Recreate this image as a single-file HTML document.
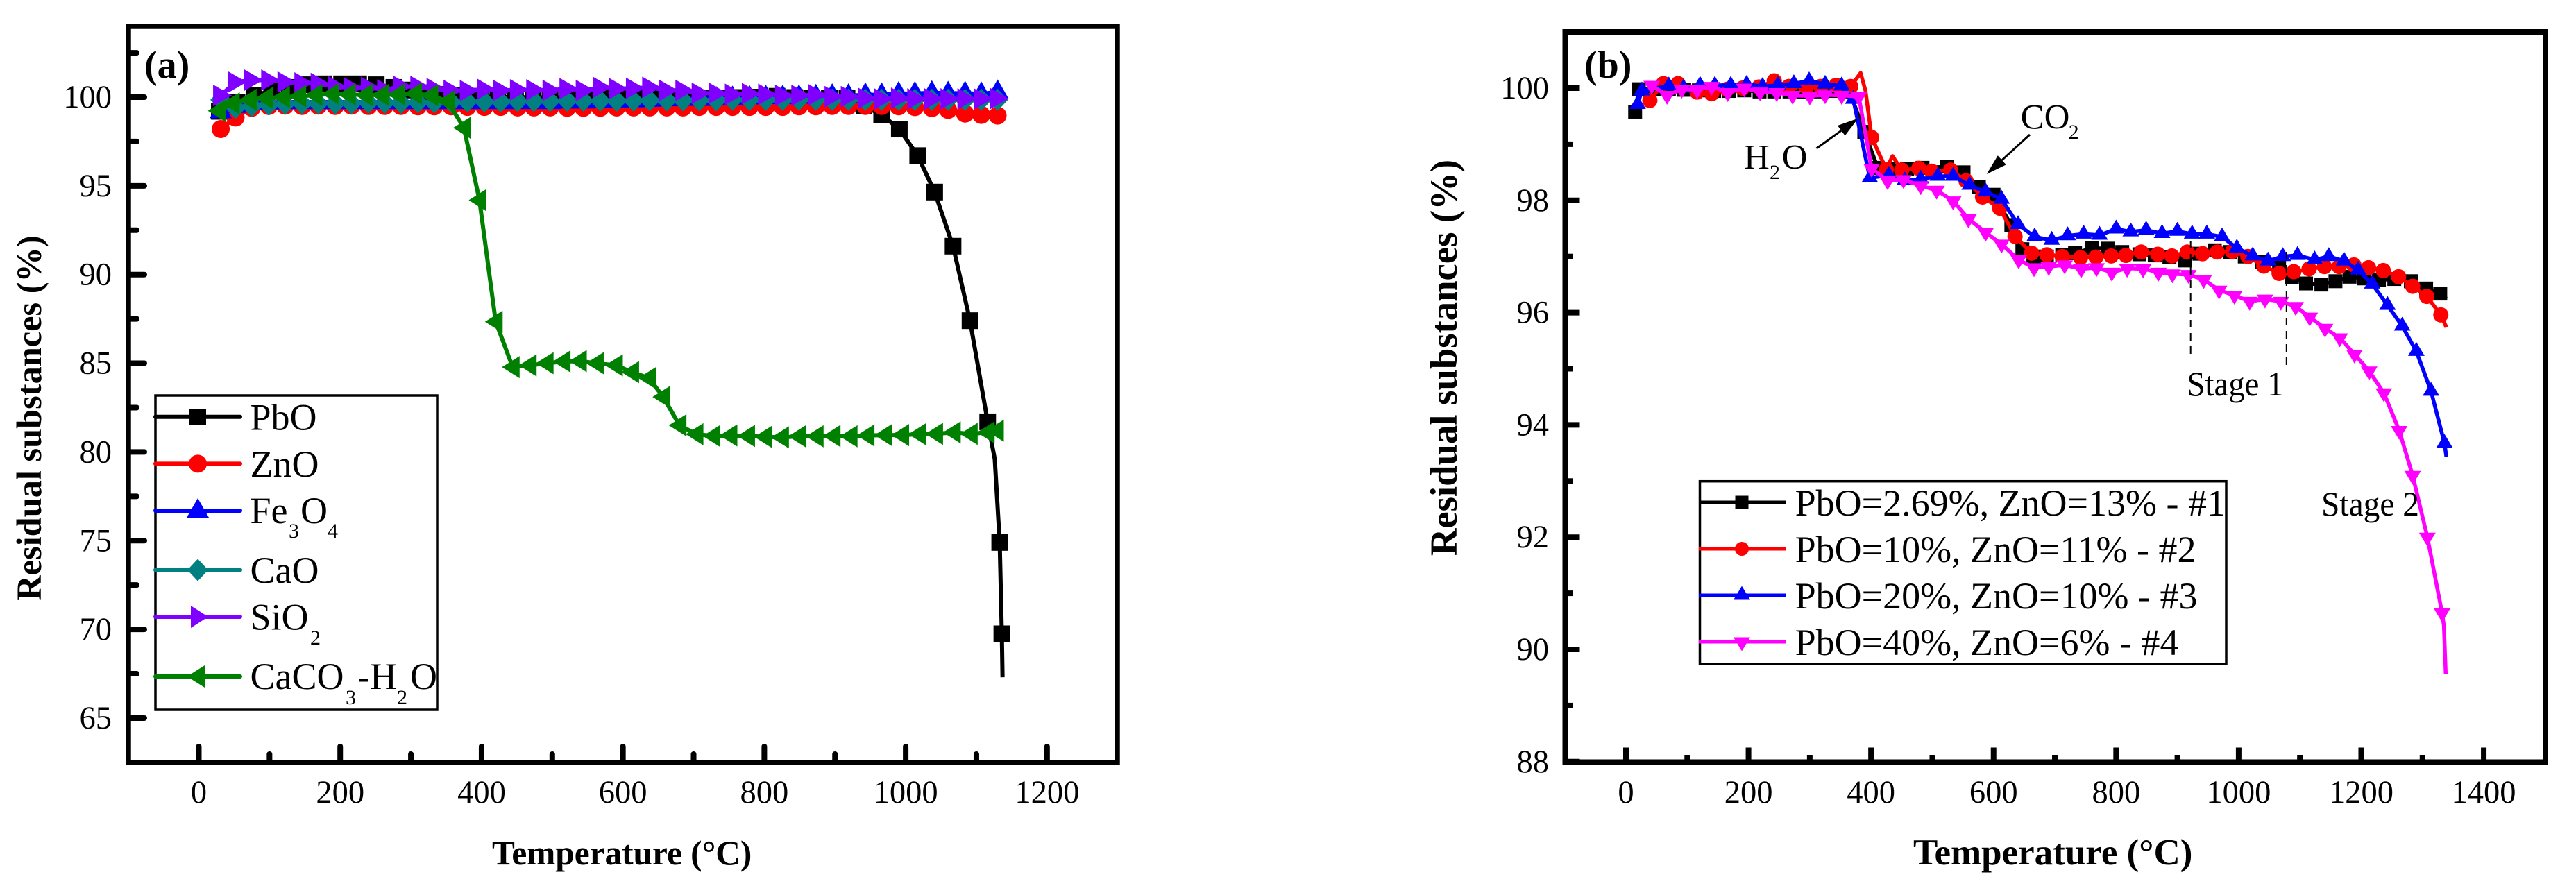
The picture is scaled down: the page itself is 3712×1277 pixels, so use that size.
<!DOCTYPE html>
<html lang="en">
<head>
<meta charset="utf-8">
<title>Residual substances vs temperature</title>
<style>
html,body{margin:0;padding:0;background:#fff;}
svg{display:block;}
text{font-family:"Liberation Serif",serif;fill:#000;}
.tick{font-size:46.5px;}
.leg{font-size:54px;}
.sub{font-size:30px;}
.bold{font-weight:bold;}
</style>
</head>
<body>
<svg id="figure" xmlns="http://www.w3.org/2000/svg" width="3712" height="1277" viewBox="0 0 3712 1277">
  <rect x="0" y="0" width="3712" height="1277" fill="#fff"/>

  <g id="panelA">
    <g id="seriesA"></g>
    <g id="ticksA"></g>
    <rect x="185" y="38" width="1425" height="1061" fill="none" stroke="#000" stroke-width="7.5"/>
    <text class="bold" x="208" y="112" font-size="56">(a)</text>
    <text class="bold" font-size="50.4" text-anchor="middle" transform="translate(59,602.5) rotate(-90)">Residual substances (%)</text>
    <text class="bold" font-size="49.3" x="709" y="1246">Temperature (°C)</text>
    <g>
      <rect x="224" y="570" width="406" height="453" fill="#fff" stroke="#000" stroke-width="3.5"/>
      <g>
        <line x1="224" x2="346" y1="600.7" y2="600.7" stroke="#000" stroke-width="6" stroke-linecap="round"/>
        <rect x="273" y="589" width="24" height="24" fill="#000"/>
        <text class="leg" x="360.5" y="619.4">PbO</text>
      </g>
      <g>
        <line x1="224" x2="346" y1="668.4" y2="668.4" stroke="#f00" stroke-width="6" stroke-linecap="round"/>
        <circle cx="285" cy="668.4" r="13" fill="#f00"/>
        <text class="leg" x="360.5" y="687">ZnO</text>
      </g>
      <g>
        <line x1="224" x2="346" y1="736" y2="736" stroke="#00f" stroke-width="6" stroke-linecap="round"/>
        <polygon points="269,746 301,746 285,718" fill="#00f"/>
        <text class="leg" x="360.5" y="754">Fe<tspan class="sub" x="416" y="775">3</tspan><tspan x="433" y="754">O</tspan><tspan class="sub" x="472" y="775">4</tspan></text>
      </g>
      <g>
        <line x1="224" x2="346" y1="821.5" y2="821.5" stroke="#008080" stroke-width="6" stroke-linecap="round"/>
        <polygon points="270,821.5 285,805.5 300,821.5 285,837.5" fill="#008080"/>
        <text class="leg" x="360.5" y="840">CaO</text>
      </g>
      <g>
        <line x1="224" x2="346" y1="889" y2="889" stroke="#8000ff" stroke-width="6" stroke-linecap="round"/>
        <polygon points="275,873 300,889 275,905" fill="#8000ff"/>
        <text class="leg" x="360.5" y="907.5">SiO<tspan class="sub" x="447" y="929">2</tspan></text>
      </g>
      <g>
        <line x1="224" x2="346" y1="975" y2="975" stroke="#008000" stroke-width="6" stroke-linecap="round"/>
        <polygon points="269.5,975 295,959 295,991" fill="#008000"/>
        <text class="leg" x="360.5" y="993">CaCO<tspan class="sub" x="498" y="1015">3</tspan><tspan x="515" y="993">-H</tspan><tspan class="sub" x="572" y="1015">2</tspan><tspan x="591" y="993">O</tspan></text>
      </g>
    </g>
  </g>

  <g id="panelB">
    <g id="seriesB"></g>
    <g id="ticksB"></g>
    <rect x="2255.5" y="46" width="1412.5" height="1052.5" fill="none" stroke="#000" stroke-width="8"/>
    <text class="bold" x="2283" y="112" font-size="56">(b)</text>
    <text class="bold" font-size="54.7" text-anchor="middle" transform="translate(2099,515.5) rotate(-90)">Residual substances (%)</text>
    <text class="bold" font-size="53" x="2757" y="1246">Temperature (°C)</text>

    <g>
      <text font-size="51" x="2513" y="243.7">H<tspan font-size="30" x="2550" y="258">2</tspan><tspan x="2567.6" y="243.7">O</tspan></text>
      <line x1="2617.5" y1="214" x2="2653.3" y2="188.2" stroke="#000" stroke-width="3"/>
      <polygon points="2677.6,170.6 2658.6,195.5 2648,181" fill="#000"/>
    </g>
    <g>
      <text font-size="51" x="2911.6" y="185.7">CO<tspan font-size="30" x="2980.6" y="200">2</tspan></text>
      <line x1="2925" y1="194" x2="2884.8" y2="230.8" stroke="#000" stroke-width="3"/>
      <polygon points="2862.7,251 2890.8,237.4 2878.8,224.2" fill="#000"/>
    </g>
    <g>
      <line x1="3156.7" x2="3156.7" y1="347" y2="516" stroke="#000" stroke-width="2" stroke-dasharray="11 8"/>
      <line x1="3294.8" x2="3294.8" y1="363" y2="534" stroke="#000" stroke-width="2" stroke-dasharray="11 8"/>
      <text font-size="50" x="3151.5" y="570" textLength="139" lengthAdjust="spacingAndGlyphs">Stage 1</text>
    </g>
    <text font-size="50" x="3345" y="743" textLength="141" lengthAdjust="spacingAndGlyphs">Stage 2</text>

    <g>
      <rect x="2449.5" y="693.7" width="758.5" height="263.3" fill="#fff" stroke="#000" stroke-width="3.5"/>
      <g>
        <line x1="2448" x2="2573.6" y1="724" y2="724" stroke="#000" stroke-width="5"/>
        <rect x="2500.5" y="714.5" width="19" height="19" fill="#000"/>
        <text class="leg" x="2586.6" y="743">PbO=2.69%, ZnO=13% - #1</text>
      </g>
      <g>
        <line x1="2448" x2="2573.6" y1="791" y2="791" stroke="#f00" stroke-width="5"/>
        <circle cx="2510" cy="791" r="10" fill="#f00"/>
        <text class="leg" x="2586.6" y="810">PbO=10%, ZnO=11% - #2</text>
      </g>
      <g>
        <line x1="2448" x2="2573.6" y1="858" y2="858" stroke="#00f" stroke-width="5"/>
        <polygon points="2498,864.5 2522,864.5 2510,844.6" fill="#00f"/>
        <text class="leg" x="2586.6" y="877">PbO=20%, ZnO=10% - #3</text>
      </g>
      <g>
        <line x1="2448" x2="2573.6" y1="925" y2="925" stroke="#f0f" stroke-width="5"/>
        <polygon points="2498,918.5 2522,918.5 2510,938.5" fill="#f0f"/>
        <text class="leg" x="2586.6" y="944">PbO=40%, ZnO=6% - #4</text>
      </g>
    </g>
  </g>
</svg>

<script>
// ---------- Panel (a) data ----------
const aXTicks = [0, 200, 400, 600, 800, 1000, 1200];
const aXMinor = [100, 300, 500, 700, 900, 1100];
const aYTicks = [65, 70, 75, 80, 85, 90, 95, 100];
const aYMinor = [67.5, 72.5, 77.5, 82.5, 87.5, 92.5, 97.5, 102.5];

const pboTemps = [29,54,78,103,128,152,177,202,226,251,276,300,325,350,374,399,423,448,473,497,522,547,571,596,621,645,670,695,719,744,769,793,818,843,867,892,917,941,966,991,1017,1041,1067,1091,1116,1133,1136];
const pboValues = [99.2,99.7,100.1,100.35,100.55,100.7,100.75,100.75,100.75,100.7,100.55,100.4,100.25,100.15,100.1,100.05,100,100,99.98,99.98,99.98,99.96,99.96,99.98,99.98,100,99.98,99.96,99.96,99.96,99.98,100,100.05,99.98,99.96,99.96,99.96,99.5,99,98.2,96.7,94.65,91.6,87.4,81.7,74.9,69.75];
const pboTailTemps = [1126, 1137];
const pboTailValues = [79.6, 67.3];

const sharedTemps = [31,52,75,99,122,146,169,193,216,240,263,286,310,333,357,380,404,427,451,474,497,521,544,568,591,615,638,662,685,708,732,755,779,802,826,849,873,896,919,943,966,990,1013,1037,1060,1084,1107,1130];
const znoValues = [98.2,98.85,99.4,99.5,99.52,99.5,99.52,99.5,99.52,99.5,99.5,99.5,99.48,99.48,99.48,99.45,99.45,99.45,99.42,99.42,99.42,99.4,99.4,99.4,99.42,99.42,99.42,99.42,99.42,99.45,99.45,99.45,99.45,99.45,99.45,99.48,99.48,99.5,99.5,99.5,99.5,99.48,99.44,99.38,99.28,99.07,99,98.96];
const feValues = [99.2,99.5,99.65,99.7,99.72,99.72,99.72,99.72,99.72,99.72,99.72,99.72,99.72,99.72,99.72,99.72,99.72,99.72,99.72,99.72,99.72,99.75,99.75,99.78,99.8,99.82,99.85,99.88,99.9,99.9,99.92,99.95,99.98,100,100,100.02,100.05,100.08,100.08,100.13,100.13,100.2,100.2,100.25,100.22,100.22,100.18,100.3];
const caoValues = [99.85,99.4,99.5,99.58,99.62,99.65,99.65,99.65,99.65,99.68,99.68,99.68,99.7,99.7,99.72,99.75,99.75,99.75,99.78,99.78,99.78,99.8,99.8,99.8,99.8,99.8,99.82,99.82,99.82,99.82,99.82,99.85,99.85,99.85,99.85,99.85,99.85,99.85,99.85,99.85,99.85,99.85,99.85,99.85,99.85,99.85,99.85,99.85];
const sio2Values = [100.1,100.85,100.96,100.96,100.85,100.8,100.77,100.6,100.52,100.55,100.41,100.6,100.6,100.48,100.37,100.37,100.45,100.38,100.41,100.41,100.38,100.48,100.38,100.55,100.48,100.5,100.55,100.38,100.38,100.22,100.22,100.16,100.2,100.16,100.1,100.1,100.13,100.03,100.03,99.94,99.9,99.94,99.9,99.9,99.9,99.9,99.9,99.92];
const caco3Temps = [28,48,72,95,119,142,165,189,212,236,259,282,306,329,352,375,397,420,444,468,492,516,539,563,590,613,637,657,680,704,728,752,777,801,825,849,874,898,922,946,971,995,1019,1043,1068,1092,1116,1129];
const caco3Values = [99.23,99.65,99.85,99.95,100,100.05,100.12,100.18,100.15,100.12,100.12,100.15,100.2,100.1,99.76,98.27,94.19,87.34,84.78,84.88,85,85.1,85.12,85,84.88,84.5,84.16,83.1,81.5,81,80.9,80.93,80.9,80.85,80.82,80.88,80.88,80.9,80.88,80.93,80.95,80.95,81,81.02,81.1,81.02,81.1,81.2];

// ---------- Panel (b) data ----------
const bXTicks = [0, 200, 400, 600, 800, 1000, 1200, 1400];
const bXMinor = [100, 300, 500, 700, 900, 1100, 1300];
const bYTicks = [88, 90, 92, 94, 96, 98, 100];
const bYMinor = [89, 91, 93, 95, 97, 99];

const s1Temps = [15,21,46,70,95,119,144,168,193,218,242,267,291,316,340,365,389,411,435,459,484,524,551,576,600,629,647,665,687,712,733,761,786,810,838,863,887,912,936,961,986,1010,1038,1066,1087,1110,1135,1158,1181,1204,1229,1254,1281,1306,1329];
const s1Values = [99.58,99.98,99.98,99.98,99.97,99.96,99.95,99.95,99.96,99.94,99.94,99.94,99.93,99.94,99.95,99.94,99.22,98.58,98.56,98.56,98.58,98.6,98.5,98.24,98.1,97.56,97.13,97,97,97.03,97.06,97.15,97.14,97.08,97.04,97.02,96.99,96.93,97.05,97.11,97.08,97,96.9,96.84,96.63,96.52,96.5,96.56,96.64,96.61,96.58,96.6,96.56,96.43,96.34];
const s1TailTemps = [1339];
const s1TailValues = [96.25];

const s2Temps = [39,61,85,116,140,165,190,217,242,266,294,318,343,367,401,425,450,478,499,530,555,582,610,635,662,687,712,742,767,792,816,841,868,891,916,941,965,990,1015,1041,1066,1090,1115,1140,1164,1188,1212,1236,1261,1284,1307,1330];
const s2Values = [99.78,100.08,100.08,99.93,99.9,99.98,100,100.02,100.13,100.03,100.02,100.03,100.05,100.03,99.12,98.55,98.54,98.57,98.52,98.54,98.35,98.06,97.86,97.36,97.06,97.03,97,96.98,96.99,97.01,97.02,97.08,97.04,97.01,97.08,97.05,97.08,97.09,97,96.83,96.7,96.73,96.78,96.82,96.82,96.85,96.8,96.75,96.64,96.47,96.29,95.96];
const s2TailTemps = [383, 391, 435, 1339];
const s2TailValues = [100.27, 99.95, 98.79, 95.74];

const s3Temps = [19,26,70,94,121,145,171,197,223,248,274,299,325,352,371,398,429,455,481,509,534,561,587,613,640,667,695,721,747,773,800,824,849,875,900,924,948,973,997,1023,1048,1072,1096,1124,1147,1172,1195,1218,1243,1267,1290,1314,1336];
const s3Values = [99.71,99.95,100.04,100,100.05,100.05,100.05,100.07,100.03,100.05,100.08,100.13,100.07,100.04,99.8,98.4,98.45,98.35,98.38,98.43,98.43,98.27,98.15,98.02,97.57,97.35,97.29,97.37,97.4,97.38,97.49,97.44,97.47,97.41,97.45,97.4,97.4,97.35,97.15,97.01,96.92,97,97.02,96.94,97,96.92,96.76,96.51,96.13,95.76,95.31,94.6,93.67];
const s3TailTemps = [1339];
const s3TailValues = [93.43];

const s4Temps = [42,67,91,116,140,166,193,219,246,272,300,325,352,380,401,427,453,481,507,534,559,587,613,641,666,690,716,743,768,793,818,844,869,892,918,943,968,993,1018,1043,1069,1093,1116,1141,1165,1189,1213,1237,1262,1284,1308,1332];
const s4Values = [100.05,99.87,99.98,99.97,100.03,99.92,100,99.93,99.92,99.87,99.86,99.88,99.87,99.85,98.57,98.35,98.37,98.26,98.18,97.99,97.67,97.43,97.22,96.94,96.8,96.82,96.85,96.78,96.8,96.72,96.79,96.78,96.72,96.69,96.68,96.59,96.4,96.31,96.2,96.24,96.2,96.11,95.92,95.72,95.55,95.26,94.96,94.57,93.9,93.1,92,90.65];
const s4TailTemps = [1335, 1338];
const s4TailValues = [90.42, 89.56];

// ---------- Axis functions ----------
const xA = t => 286.5 + t * 1.0186;
const yA = v => 140 + (100 - v) * 25.57;
const xB = t => 2343 + t * 0.8829;
const yB = v => 127 + (100 - v) * 80.9;

const NS = 'http://www.w3.org/2000/svg';
function make(tag, parent) {
  const el = document.createElementNS(NS, tag);
  parent.appendChild(el);
  return el;
}

function drawMarker(parent, kind, cx, cy, sz, color) {
  let el;
  if (kind === 'square') {
    el = make('rect', parent);
    el.setAttribute('x', cx - sz.square / 2);
    el.setAttribute('y', cy - sz.square / 2);
    el.setAttribute('width', sz.square);
    el.setAttribute('height', sz.square);
  } else if (kind === 'circle') {
    el = make('circle', parent);
    el.setAttribute('cx', cx);
    el.setAttribute('cy', cy);
    el.setAttribute('r', sz.r);
  } else {
    el = make('polygon', parent);
    let p = [];
    if (kind === 'up') p = [[cx - sz.triW / 2, cy + sz.triS], [cx + sz.triW / 2, cy + sz.triS], [cx, cy - sz.triL]];
    if (kind === 'down') p = [[cx - sz.triW / 2, cy - sz.triS], [cx + sz.triW / 2, cy - sz.triS], [cx, cy + sz.triL]];
    if (kind === 'diamond') p = [[cx - 15, cy], [cx, cy - 16], [cx + 15, cy], [cx, cy + 16]];
    if (kind === 'right') p = [[cx - 11, cy - 15.5], [cx + 16, cy], [cx - 11, cy + 15.5]];
    if (kind === 'left') p = [[cx - 15.5, cy], [cx + 10, cy - 16], [cx + 10, cy + 16]];
    el.setAttribute('points', p.map(q => q.join(',')).join(' '));
  }
  el.setAttribute('fill', color);
  
  
}

function drawSeries(parent, cfg, xf, yf, sz, lineW) {
  const g = make('g', parent);
  
  
  const pts = cfg.temps.map((t, i) => [t, cfg.values[i]]);
  (cfg.tailT || []).forEach((t, i) => pts.push([t, cfg.tailV[i]]));
  pts.sort((a, b) => a[0] - b[0]);
  const line = make('polyline', g);
  line.setAttribute('points', pts.map(p => xf(p[0]) + ',' + yf(p[1])).join(' '));
  line.setAttribute('fill', 'none');
  line.setAttribute('stroke', cfg.color);
  line.setAttribute('stroke-width', lineW);
  line.setAttribute('stroke-linejoin', 'round');
  
  
  cfg.temps.forEach((t, i) => drawMarker(g, cfg.kind, xf(t), yf(cfg.values[i]), sz, cfg.color));
}

function drawTicks(parent, o) {
  const tick = (x1, y1, x2, y2, w) => {
    const l = make('line', parent);
    l.setAttribute('x1', x1);
    l.setAttribute('y1', y1);
    l.setAttribute('x2', x2);
    l.setAttribute('y2', y2);
    l.setAttribute('stroke', '#000');
    l.setAttribute('stroke-width', w);
    l.setAttribute('stroke-linecap', o.cap);
    
    
  };
  const label = (x, y, s, anchor, name) => {
    const t = make('text', parent);
    t.setAttribute('x', x);
    t.setAttribute('y', y);
    t.setAttribute('class', 'tick');
    t.setAttribute('text-anchor', anchor);
    t.textContent = s;
    
    
  };
  o.xTicks.forEach(v => {
    tick(o.xf(v), o.bottom, o.xf(v), o.bottom - o.major, 8);
    label(o.xf(v), 1157, String(v), 'middle', 'x-tick-label');
  });
  o.xMinor.forEach(v => tick(o.xf(v), o.bottom, o.xf(v), o.bottom - o.minor, 8));
  o.yTicks.forEach(v => {
    tick(o.left, o.yf(v), o.left + o.major, o.yf(v), 8);
    label(o.labelX, o.yf(v) + 15, String(v), 'end', 'y-tick-label');
  });
  o.yMinor.forEach(v => tick(o.left, o.yf(v), o.left + o.minor, o.yf(v), 8));
}

// ---------- Build panel (a) ----------
const sizeA = {square: 24, r: 13, triW: 32, triL: 18, triS: 10};
const gA = document.getElementById('seriesA');
[
  {name: 'series-pbo', color: '#000', kind: 'square', temps: pboTemps, values: pboValues, tailT: pboTailTemps, tailV: pboTailValues},
  {name: 'series-zno', color: '#f00', kind: 'circle', temps: sharedTemps, values: znoValues},
  {name: 'series-fe3o4', color: '#00f', kind: 'up', temps: sharedTemps, values: feValues},
  {name: 'series-cao', color: '#008080', kind: 'diamond', temps: sharedTemps, values: caoValues},
  {name: 'series-sio2', color: '#8000ff', kind: 'right', temps: sharedTemps, values: sio2Values},
  {name: 'series-caco3-h2o', color: '#008000', kind: 'left', temps: caco3Temps, values: caco3Values}
].forEach(c => drawSeries(gA, c, xA, yA, sizeA, 6));
drawTicks(document.getElementById('ticksA'), {
  xf: xA, yf: yA, xTicks: aXTicks, xMinor: aXMinor, yTicks: aYTicks, yMinor: aYMinor,
  bottom: 1099, left: 185, major: 23, minor: 12, labelX: 161, cap: 'round'
});

// ---------- Build panel (b) ----------
const sizeB = {square: 20, r: 11, triW: 24, triL: 13.5, triS: 6.5};
const gB = document.getElementById('seriesB');
[
  {name: 'series-1', color: '#000', kind: 'square', temps: s1Temps, values: s1Values, tailT: s1TailTemps, tailV: s1TailValues},
  {name: 'series-2', color: '#f00', kind: 'circle', temps: s2Temps, values: s2Values, tailT: s2TailTemps, tailV: s2TailValues},
  {name: 'series-3', color: '#00f', kind: 'up', temps: s3Temps, values: s3Values, tailT: s3TailTemps, tailV: s3TailValues},
  {name: 'series-4', color: '#f0f', kind: 'down', temps: s4Temps, values: s4Values, tailT: s4TailTemps, tailV: s4TailValues}
].forEach(c => drawSeries(gB, c, xB, yB, sizeB, 5.5));
drawTicks(document.getElementById('ticksB'), {
  xf: xB, yf: yB, xTicks: bXTicks, xMinor: bXMinor, yTicks: bYTicks, yMinor: bYMinor,
  bottom: 1098.5, left: 2255.5, major: 21, minor: 10.5, labelX: 2232, cap: 'butt'
});
</script>
</body>
</html>
